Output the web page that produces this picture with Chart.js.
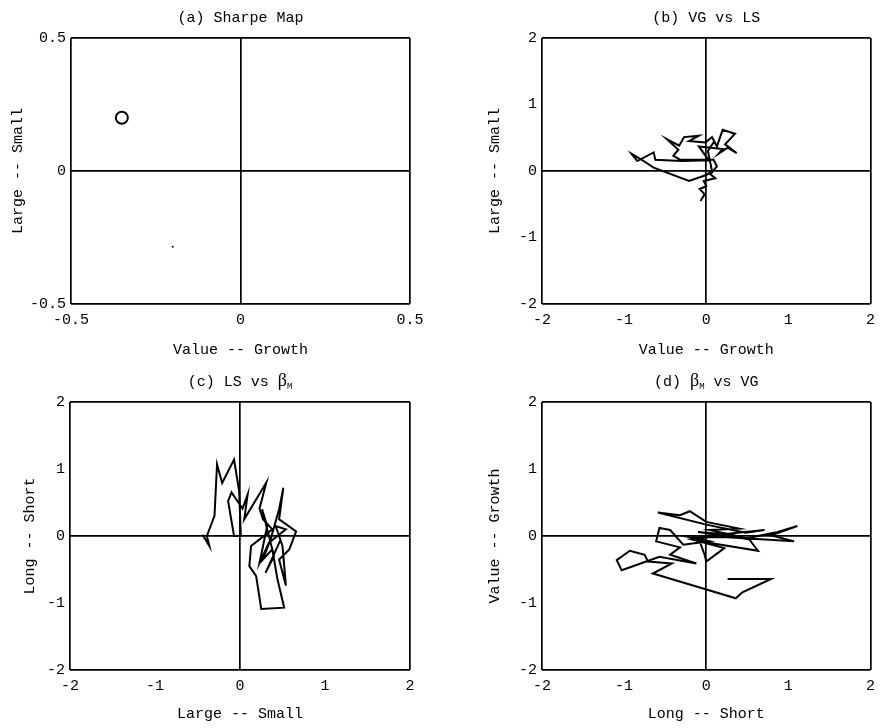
<!DOCTYPE html>
<html>
<head>
<meta charset="utf-8">
<script src="https://cdn.jsdelivr.net/npm/chart.js@4.4.1/dist/chart.umd.min.js"></script>
<style>
  body { margin: 0; background: #fff; }
  canvas { position: absolute; }
</style>
</head>
<body>
<canvas id="chartA" width="441" height="364" style="left:0;top:0"></canvas>
<canvas id="chartB" width="441" height="364" style="left:441px;top:0"></canvas>
<canvas id="chartC" width="441" height="364" style="left:0;top:364px"></canvas>
<canvas id="chartD" width="441" height="364" style="left:441px;top:364px"></canvas>
<script>
// tick labels
var ticksSmall = [-0.5, 0, 0.5];
var ticksWide = [-2, -1, 0, 1, 2];

// (a) Sharpe Map : one point + a stray dot
var sharpeX = [-0.35];
var sharpeY = [0.2];
var sharpeDotX = [-0.2];
var sharpeDotY = [-0.285];

// (b) VG vs LS
var vgLsX = [-0.07, -0.02, -0.08, 0.0, -0.03, 0.11, 0.05, 0.13, 0.09, -0.32, -0.40, -0.34, -0.48, -0.33, -0.27, -0.09, -0.21, -0.01, 0.07, 0.13, 0.20, 0.35, 0.23, 0.37, 0.26, 0.15, 0.20, -0.09, 0.03, -0.30, -0.62, -0.64, -0.84, -0.91, -0.80, -0.64, -0.21, 0.0, 0.07, 0.02, 0.10];
var vgLsY = [-0.45, -0.35, -0.27, -0.23, -0.15, -0.11, -0.05, 0.07, 0.17, 0.17, 0.23, 0.32, 0.48, 0.38, 0.51, 0.53, 0.45, 0.43, 0.51, 0.37, 0.62, 0.56, 0.40, 0.27, 0.35, 0.26, 0.33, 0.37, 0.16, 0.15, 0.17, 0.28, 0.15, 0.26, 0.18, 0.05, -0.15, -0.06, 0.0, 0.30, 0.45];

// (c) LS vs beta_M
var lsBmX = [-0.44, -0.36, -0.39, -0.30, -0.27, -0.21, -0.07, -0.01, 0.01, -0.07, -0.14, -0.10, 0.03, 0.09, 0.05, 0.31, 0.23, 0.27, 0.38, 0.23, 0.13, 0.11, 0.19, 0.25, 0.52, 0.44, 0.38, 0.27, 0.36, 0.46, 0.51, 0.46, 0.66, 0.58, 0.46, 0.54, 0.50, 0.42, 0.54, 0.34, 0.23, 0.32, 0.26, 0.40, 0.30, 0.48];
var lsBmY = [0.02, -0.15, 0.0, 0.30, 1.07, 0.79, 1.14, 0.67, 0.0, 0.0, 0.52, 0.65, 0.41, 0.62, 0.25, 0.80, 0.41, 0.25, 0.10, -0.05, -0.15, -0.45, -0.60, -1.09, -1.07, -0.64, -0.20, -0.35, -0.05, 0.40, 0.72, 0.25, 0.07, -0.20, -0.35, -0.74, -0.15, 0.15, 0.10, -0.10, -0.40, 0.15, 0.40, -0.30, -0.55, -0.05];

// (d) beta_M vs VG
var bmVgX = [0.26, 0.79, 0.44, 0.36, -0.65, -0.42, -0.71, -0.75, -0.93, -1.09, -1.03, -0.73, -0.57, -0.12, -0.44, -0.32, -0.61, -0.57, -0.44, -0.28, 0.04, -0.20, 0.44, 0.04, 0.40, 0.0, -0.20, -0.32, -0.59, 0.0, 0.48, 0.71, 0.0, 1.07, 0.79, 1.11, 0.87, 0.51, 0.63, -0.08, -0.02, 0.0, 0.22, -0.18, 0.30, -0.10, 0.52];
var bmVgY = [-0.64, -0.64, -0.84, -0.93, -0.56, -0.41, -0.38, -0.28, -0.22, -0.36, -0.51, -0.38, -0.31, -0.41, -0.28, -0.17, -0.08, 0.12, 0.09, -0.13, -0.08, -0.02, -0.02, 0.09, 0.11, 0.21, 0.37, 0.31, 0.35, 0.17, 0.05, 0.09, 0.0, -0.08, 0.01, 0.15, 0.06, -0.03, -0.22, -0.08, -0.28, -0.38, -0.18, -0.05, 0.02, 0.06, -0.05];

var MONO = '"Liberation Mono", "DejaVu Sans Mono", monospace';

function toPoints(xs, ys) {
  return xs.map(function (x, i) { return { x: x, y: ys[i] }; });
}

// title drawn above the plot, with optional subscript parts
var panelTitle = {
  id: 'panelTitle',
  afterDraw: function (chart, args, opts) {
    var ctx = chart.ctx, area = chart.chartArea;
    var parts = opts.parts || [];
    ctx.save();
    ctx.fillStyle = '#000';
    ctx.textBaseline = 'alphabetic';
    var total = 0;
    parts.forEach(function (p) {
      ctx.font = p.font;
      p.w = ctx.measureText(p.text).width;
      total += p.w;
    });
    var x = (area.left + area.right) / 2 - total / 2;
    var y = area.top - 16;
    parts.forEach(function (p) {
      ctx.font = p.font;
      ctx.fillText(p.text, x, y + (p.dy || 0));
      x += p.w;
    });
    ctx.restore();
  }
};

function gridColor(lo, hi) {
  return function (c) {
    var v = c.tick ? c.tick.value : null;
    return (v === 0 || v === lo || v === hi) ? '#000' : 'rgba(0,0,0,0)';
  };
}

function makePanel(id, datasets, o) {
  var lo = o.ticks[0], hi = o.ticks[o.ticks.length - 1];
  return new Chart(document.getElementById(id), {
    type: 'scatter',
    data: { datasets: datasets },
    plugins: [panelTitle],
    options: {
      responsive: false,
      animation: false,
      devicePixelRatio: 1,
      layout: { padding: { top: 38, right: o.right, left: 0, bottom: 0 } },
      plugins: {
        legend: { display: false },
        tooltip: { enabled: false },
        panelTitle: { parts: o.title }
      },
      scales: {
        x: {
          type: 'linear', min: lo, max: hi,
          afterBuildTicks: function (s) { s.ticks = o.ticks.map(function (v) { return { value: v }; }); },
          afterFit: function (s) { s.height = o.xh; },
          grid: { color: gridColor(lo, hi), lineWidth: 1.7, drawTicks: false },
          border: { display: false },
          ticks: { color: '#000', padding: 7, maxRotation: 0, font: { family: MONO, size: 15 } },
          title: { display: true, text: o.xTitle, color: '#000', padding: { top: 0, bottom: 5 }, font: { family: MONO, size: 15 } }
        },
        y: {
          type: 'linear', min: lo, max: hi,
          afterBuildTicks: function (s) { s.ticks = o.ticks.map(function (v) { return { value: v }; }); },
          afterFit: function (s) { s.width = o.yw; },
          grid: { color: gridColor(lo, hi), lineWidth: 1.7, drawTicks: false },
          border: { display: false },
          ticks: { color: '#000', padding: 5, font: { family: MONO, size: 15 } },
          title: { display: true, text: o.yTitle, color: '#000', padding: { top: o.yTitlePad, bottom: 0 }, font: { family: MONO, size: 15 } }
        }
      }
    }
  });
}

function pathSet(xs, ys) {
  return {
    data: toPoints(xs, ys),
    showLine: true,
    borderColor: '#000',
    borderWidth: 2,
    pointRadius: 0,
    tension: 0
  };
}

document.addEventListener("DOMContentLoaded", function () {
  var plain = '15px ' + MONO;
  var beta = '18px "Liberation Serif", "DejaVu Serif", serif';
  var sub = '9px ' + MONO;

  makePanel('chartA', [
    { data: toPoints(sharpeX, sharpeY), pointRadius: 6, pointBorderWidth: 2, pointBorderColor: '#000', pointBackgroundColor: '#fff' },
    { data: toPoints(sharpeDotX, sharpeDotY), pointRadius: 1, pointBorderWidth: 0, pointBackgroundColor: '#000' }
  ], {
    ticks: ticksSmall, right: 31, xh: 60, yw: 71, yTitlePad: 9,
    xTitle: 'Value -- Growth', yTitle: 'Large -- Small',
    title: [{ text: '(a) Sharpe Map', font: plain }]
  });

  makePanel('chartB', [pathSet(vgLsX, vgLsY)], {
    ticks: ticksWide, right: 5, xh: 60, yw: 101, yTitlePad: 45,
    xTitle: 'Value -- Growth', yTitle: 'Large -- Small',
    title: [{ text: '(b) VG vs LS', font: plain }]
  });

  makePanel('chartC', [pathSet(lsBmX, lsBmY)], {
    ticks: ticksWide, right: 31, xh: 58, yw: 70, yTitlePad: 21,
    xTitle: 'Large -- Small', yTitle: 'Long -- Short',
    title: [{ text: '(c) LS vs ', font: plain }, { text: 'β', font: beta }, { text: 'M', font: sub, dy: 3 }]
  });

  makePanel('chartD', [pathSet(bmVgX, bmVgY)], {
    ticks: ticksWide, right: 5, xh: 58, yw: 101, yTitlePad: 45,
    xTitle: 'Long -- Short', yTitle: 'Value -- Growth',
    title: [{ text: '(d) ', font: plain }, { text: 'β', font: beta }, { text: 'M', font: sub, dy: 3 }, { text: ' vs VG', font: plain }]
  });
});
</script>
</body>
</html>
